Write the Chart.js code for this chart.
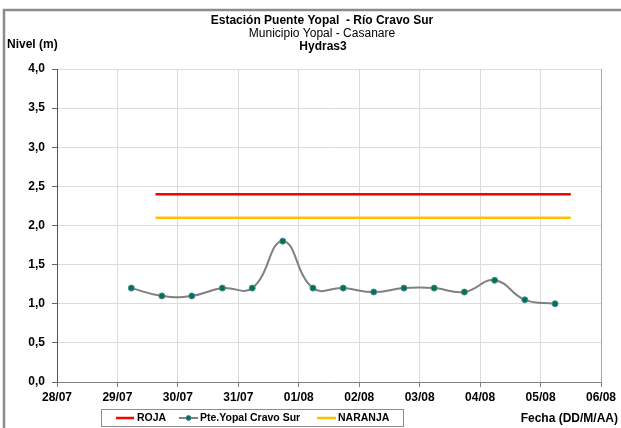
<!DOCTYPE html>
<html>
<head>
<meta charset="utf-8">
<script src="https://cdn.jsdelivr.net/npm/chart.js@4"></script>
<style>
html,body{margin:0;padding:0;background:#fff;}
#wrap{width:621px;height:428px;position:relative;}
</style>
</head>
<body>
<div id="wrap"><canvas id="c" width="621" height="428"></canvas></div>
<script>
// ---- data ----
const fechaEtiquetas = ['28/07','29/07','30/07','31/07','01/08','02/08','03/08','04/08','05/08','06/08'];
const diasMedicion = [1.23,1.735,2.23,2.735,3.23,3.735,4.235,4.735,5.24,5.74,6.24,6.74,7.24,7.74,8.24];
const nivelPteYopal = [1.2,1.1,1.1,1.2,1.2,1.8,1.2,1.2,1.15,1.2,1.2,1.15,1.3,1.05,1.0];
const umbralDias = [1.63, 8.5];
const nivelRoja = [2.4, 2.4];
const nivelNaranja = [2.1, 2.1];
const yTicks = [0,0.5,1,1.5,2,2.5,3,3.5,4];

const titulo = 'Estación Puente Yopal  - Río Cravo Sur';
const subtitulo = 'Municipio Yopal - Casanare';
const subtitulo2 = 'Hydras3';
const ejeY = 'Nivel (m)';
const ejeX = 'Fecha (DD/M/AA)';

const FONT = "'Liberation Sans', Arial, sans-serif";
Chart.defaults.font.family = FONT;
Chart.defaults.color = '#000';

const pairs = (xs, ys) => xs.map((x, i) => ({x: x, y: ys[i]}));

const decor = {
  id: 'decor',
  beforeDraw(chart) {
    const ctx = chart.ctx;
    ctx.save();
    ctx.fillStyle = '#fff';
    ctx.fillRect(0, 0, chart.width, chart.height);
    // outer frame
    ctx.strokeStyle = '#8c8c8c';
    ctx.lineWidth = 2.5;
    ctx.beginPath();
    ctx.moveTo(4, 428);
    ctx.lineTo(4, 10);
    ctx.lineTo(621, 10);
    ctx.stroke();
    ctx.restore();
  },
  afterDraw(chart) {
    const ctx = chart.ctx;
    const ca = chart.chartArea;
    ctx.save();
    // plot area right border
    ctx.strokeStyle = '#a6a6a6';
    ctx.lineWidth = 1;
    ctx.beginPath();
    ctx.moveTo(Math.round(ca.right) + 0.5, ca.top);
    ctx.lineTo(Math.round(ca.right) + 0.5, ca.bottom);
    ctx.stroke();
    // titles
    ctx.fillStyle = '#000';
    ctx.textAlign = 'center';
    ctx.textBaseline = 'middle';
    ctx.font = 'bold 12px ' + FONT;
    ctx.fillText(titulo, 322, 21);
    ctx.font = '12px ' + FONT;
    ctx.fillText(subtitulo, 322, 34);
    ctx.font = 'bold 12px ' + FONT;
    ctx.fillText(subtitulo2, 323, 47);
    ctx.textAlign = 'left';
    ctx.fillText(ejeY, 7, 45);
    ctx.textAlign = 'right';
    ctx.fillText(ejeX, 618, 419);
    // legend
    ctx.strokeStyle = '#8c8c8c';
    ctx.lineWidth = 1;
    ctx.strokeRect(101.5, 409.5, 302, 17);
    const items = [
      {ds: chart.data.datasets[0], x0: 116, x1: 134, tx: 137},
      {ds: chart.data.datasets[1], x0: 179, x1: 198, tx: 200},
      {ds: chart.data.datasets[2], x0: 317, x1: 336, tx: 338}
    ];
    ctx.font = 'bold 10.5px ' + FONT;
    ctx.textAlign = 'left';
    items.forEach(it => {
      ctx.strokeStyle = it.ds.borderColor;
      ctx.lineWidth = it.ds.borderWidth;
      ctx.beginPath();
      ctx.moveTo(it.x0, 418);
      ctx.lineTo(it.x1, 418);
      ctx.stroke();
      if (it.ds.pointRadius > 0) {
        ctx.fillStyle = it.ds.pointBackgroundColor;
        ctx.strokeStyle = it.ds.pointBorderColor;
        ctx.lineWidth = 1;
        ctx.beginPath();
        ctx.arc((it.x0 + it.x1) / 2, 418, 2.5, 0, Math.PI * 2);
        ctx.fill();
        ctx.stroke();
      }
      ctx.fillStyle = '#000';
      ctx.fillText(it.ds.label, it.tx, 418);
    });
    ctx.restore();
  }
};

new Chart(document.getElementById('c'), {
  type: 'line',
  data: {
    datasets: [
      {
        label: 'ROJA',
        data: pairs(umbralDias, nivelRoja),
        borderColor: '#ff0000',
        borderWidth: 2.5,
        pointRadius: 0,
        tension: 0
      },
      {
        label: 'Pte.Yopal Cravo Sur',
        data: pairs(diasMedicion, nivelPteYopal),
        borderColor: '#808080',
        borderWidth: 2,
        pointRadius: 3,
        pointBackgroundColor: '#007a33',
        pointBorderColor: '#4a7ebb',
        pointBorderWidth: 1,
        tension: 0.45
      },
      {
        label: 'NARANJA',
        data: pairs(umbralDias, nivelNaranja),
        borderColor: '#ffc000',
        borderWidth: 2.5,
        pointRadius: 0,
        tension: 0
      }
    ]
  },
  options: {
    responsive: false,
    animation: false,
    devicePixelRatio: 1,
    layout: {padding: {top: 69, right: 20, bottom: 0, left: 0}},
    plugins: {legend: {display: false}, tooltip: {enabled: false}, title: {display: false}},
    scales: {
      x: {
        type: 'linear',
        min: 0,
        max: fechaEtiquetas.length - 1,
        afterBuildTicks: s => { s.ticks = fechaEtiquetas.map((_, i) => ({value: i})); },
        ticks: {
          autoSkip: false,
          maxRotation: 0,
          padding: 3,
          font: {size: 12, weight: 'bold'},
          color: '#000',
          callback: v => fechaEtiquetas[v]
        },
        grid: {color: '#dcdcdc', tickColor: '#808080', tickLength: 5, lineWidth: 1},
        border: {color: '#808080', width: 1},
        afterFit: s => { s.height = 46; s.paddingLeft = 0; s.paddingRight = 0; }
      },
      y: {
        min: 0,
        max: 4,
        afterBuildTicks: s => { s.ticks = yTicks.map(v => ({value: v})); },
        ticks: {
          padding: 7,
          font: {size: 12, weight: 'bold'},
          color: '#000',
          callback: v => Number(v).toFixed(1).replace('.', ',')
        },
        grid: {color: '#dcdcdc', tickColor: '#666', tickLength: 5, lineWidth: 1},
        border: {color: '#555', width: 1},
        afterFit: s => { s.width = 57; s.paddingTop = 0; s.paddingBottom = 0; }
      }
    }
  },
  plugins: [decor]
});
</script>
</body>
</html>
